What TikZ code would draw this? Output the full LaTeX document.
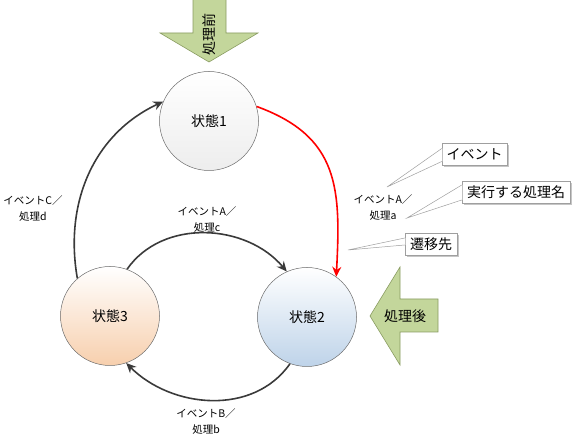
\documentclass[tikz,border=0pt]{standalone}
\usepackage{fontspec}
\setmainfont{Noto Sans CJK JP}
\usetikzlibrary{arrows.meta,shadows}

\definecolor{arrowfill}{HTML}{C3D69B}
\definecolor{arrowline}{HTML}{8A9C62}
\definecolor{edgegray}{HTML}{3A3A3A}
\definecolor{peach}{HTML}{F7CFAD}
\definecolor{paleblue}{HTML}{BED3E9}

\begin{document}
\begin{tikzpicture}[x=1pt,y=1pt,>={Stealth[length=10pt,width=9pt]},
  state/.style={circle,draw=gray!85!black,line width=0.5pt,minimum size=99pt,
    inner sep=0pt,font=\fontsize{14}{14}\selectfont},
  trans/.style={->,line width=1.6pt,draw=edgegray},
  lbl/.style={align=center,font=\fontsize{10.5}{16}\selectfont},
  note/.style={draw=gray!75,fill=white,line width=0.5pt,minimum height=22pt,
    inner xsep=3pt,inner ysep=0pt,font=\fontsize{14}{14}\selectfont,
    drop shadow={shadow xshift=2pt,shadow yshift=-2pt,fill=gray!45,opacity=1}},
  wedge/.style={draw=gray!75,line width=0.5pt},
  blockarrow/.style={fill=arrowfill,draw=arrowline,line width=0.6pt}]

  \useasboundingbox (0,0) rectangle (579,438);

  \node[state,top color=white,bottom color=gray!14] (s1) at (209,317) {状態1};
  \node[state,top color=white,bottom color=paleblue] (s2) at (307,121) {状態2};
  \node[state,top color=white,bottom color=peach] (s3) at (110,122) {状態3};

  \draw[trans,draw=red] (s1.17) to[out=-20,in=87,looseness=1.2] (s2.54);
  \draw[trans] (s3.70) to[out=55,in=130] (s2.114);
  \draw[trans] (s2.-110) to[out=-125,in=-45] (s3.-71);
  \draw[trans] (s3.131) to[out=100,in=-155] (s1.157);

  \node[lbl] (lc) at (33,230) {イベントC／\\処理d};
  \node[lbl] (lac) at (207,219) {イベントA／\\処理c};
  \node[lbl] (laa) at (383,231) {イベントA／\\処理a};
  \node[lbl] (lbb) at (206,17) {イベントB／\\処理b};

  \draw[blockarrow] (193,440) -- (226,440) -- (226,405) -- (258,405)
    -- (209,376) -- (160,405) -- (193,405) -- cycle;
  \node[rotate=90,font=\fontsize{14}{14}\selectfont] (before) at (209,403) {処理前};
  \draw[blockarrow] (438,139) -- (400,139) -- (400,171) -- (370,122)
    -- (400,73) -- (400,106) -- (438,106) -- cycle;
  \node[font=\fontsize{14}{14}\selectfont] (after) at (405,122) {処理後};

  \node[note,minimum width=65pt] (n1) at (474.5,283.5) {イベント};
  \node[note,minimum width=108pt] (n2) at (516,246) {実行する処理名};
  \node[note,minimum width=52pt] (n3) at (431,194) {遷移先};

  \coordinate (t1) at (387,251);
  \coordinate (t2) at (407,220);
  \coordinate (t3) at (348,188);

  \fill[white] (t1) -- ([shift={(0.5pt,6pt)}]n1.west) -- ([shift={(0.5pt,-7pt)}]n1.west) -- cycle;
  \draw[wedge] ([yshift=6pt]n1.west) -- (t1) -- ([yshift=-7pt]n1.west);
  \fill[white] (t2) -- ([shift={(0.5pt,7pt)}]n2.west) -- ([shift={(0.5pt,-8pt)}]n2.west) -- cycle;
  \draw[wedge] ([yshift=7pt]n2.west) -- (t2) -- ([yshift=-8pt]n2.west);
  \fill[white] (t3) -- ([shift={(0.5pt,6pt)}]n3.west) -- ([shift={(0.5pt,-1pt)}]n3.west) -- cycle;
  \draw[wedge] ([yshift=6pt]n3.west) -- (t3) -- ([yshift=-1pt]n3.west);
\end{tikzpicture}
\end{document}
